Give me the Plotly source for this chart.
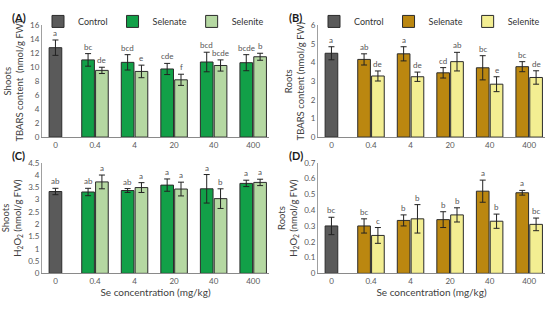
import plotly.graph_objects as go

categories = ["0", "0.4", "4", "20", "40", "400"]
treat_cats = categories[1:]

# (A) Shoots TBARS
a_control, a_control_err = [12.8], [1.1]
a_selenate = [11.05, 10.7, 9.75, 10.75, 10.65]
a_selenate_err = [0.9, 1.1, 0.8, 1.4, 1.15]
a_selenite = [9.55, 9.4, 8.2, 10.25, 11.5]
a_selenite_err = [0.45, 0.9, 0.8, 0.8, 0.5]
a_letters_control = ["a"]
a_letters_selenate = ["bc", "bcd", "cde", "bcd", "bcde"]
a_letters_selenite = ["de", "e", "f", "bcde", "b"]

# (B) Roots TBARS
b_control, b_control_err = [4.5], [0.35]
b_selenate = [4.17, 4.47, 3.45, 3.72, 3.78]
b_selenate_err = [0.3, 0.38, 0.28, 0.65, 0.27]
b_selenite = [3.28, 3.24, 4.05, 2.84, 3.2]
b_selenite_err = [0.27, 0.25, 0.5, 0.4, 0.36]
b_letters_control = ["a"]
b_letters_selenate = ["ab", "a", "cd", "bc", "bc"]
b_letters_selenite = ["de", "de", "ab", "e", "de"]

# (C) Shoots H2O2
c_control, c_control_err = [3.33], [0.13]
c_selenate = [3.31, 3.37, 3.59, 3.44, 3.66]
c_selenate_err = [0.15, 0.08, 0.25, 0.58, 0.13]
c_selenite = [3.72, 3.49, 3.43, 3.04, 3.7]
c_selenite_err = [0.28, 0.2, 0.28, 0.4, 0.13]
c_letters_control = ["ab"]
c_letters_selenate = ["ab", "ab", "a", "a", "a"]
c_letters_selenite = ["a", "a", "a", "b", "a"]

# (D) Roots H2O2
d_control, d_control_err = [0.30], [0.055]
d_selenate = [0.30, 0.335, 0.34, 0.52, 0.51]
d_selenate_err = [0.045, 0.035, 0.05, 0.07, 0.015]
d_selenite = [0.24, 0.345, 0.37, 0.33, 0.31]
d_selenite_err = [0.05, 0.09, 0.045, 0.045, 0.04]
d_letters_control = ["bc"]
d_letters_selenate = ["bc", "b", "b", "a", "a"]
d_letters_selenite = ["c", "b", "b", "b", "bc"]

W, H = 550, 310
FONT = "Lato"
BAR_W = 0.32
GAP = 0.03
OUTLINE = "#2b2b2b"
CONTROL_COLOR = "#5a5a5a"

fig = go.Figure()

panels = [
    dict(ax="", control=a_control, control_err=a_control_err, sel=a_selenate, sel_err=a_selenate_err,
         ite=a_selenite, ite_err=a_selenite_err, lc=a_letters_control, ls=a_letters_selenate,
         li=a_letters_selenite, c_sel="#12a048", c_ite="#b5d8a2", legend="legend", showleg=True),
    dict(ax="2", control=b_control, control_err=b_control_err, sel=b_selenate, sel_err=b_selenate_err,
         ite=b_selenite, ite_err=b_selenite_err, lc=b_letters_control, ls=b_letters_selenate,
         li=b_letters_selenite, c_sel="#bb8710", c_ite="#f3ee92", legend="legend2", showleg=True),
    dict(ax="3", control=c_control, control_err=c_control_err, sel=c_selenate, sel_err=c_selenate_err,
         ite=c_selenite, ite_err=c_selenite_err, lc=c_letters_control, ls=c_letters_selenate,
         li=c_letters_selenite, c_sel="#12a048", c_ite="#b5d8a2", legend="legend", showleg=False),
    dict(ax="4", control=d_control, control_err=d_control_err, sel=d_selenate, sel_err=d_selenate_err,
         ite=d_selenite, ite_err=d_selenite_err, lc=d_letters_control, ls=d_letters_selenate,
         li=d_letters_selenite, c_sel="#bb8710", c_ite="#f3ee92", legend="legend2", showleg=False),
]

def err(arr):
    return dict(type="data", array=arr, color="#222222", thickness=1, width=3)

annotations = []
for p in panels:
    xa, ya = "x" + p["ax"], "y" + p["ax"]
    fig.add_trace(go.Bar(x=categories[:1], y=p["control"], name="Control", width=BAR_W, offset=-BAR_W / 2,
                         marker=dict(color=CONTROL_COLOR, line=dict(color=OUTLINE, width=1)),
                         error_y=err(p["control_err"]), xaxis=xa, yaxis=ya,
                         legend=p["legend"], showlegend=p["showleg"]))
    fig.add_trace(go.Bar(x=treat_cats, y=p["sel"], name="Selenate", width=BAR_W, offset=-BAR_W - GAP / 2,
                         marker=dict(color=p["c_sel"], line=dict(color=OUTLINE, width=1)),
                         error_y=err(p["sel_err"]), xaxis=xa, yaxis=ya,
                         legend=p["legend"], showlegend=p["showleg"]))
    fig.add_trace(go.Bar(x=treat_cats, y=p["ite"], name="Selenite", width=BAR_W, offset=GAP / 2,
                         marker=dict(color=p["c_ite"], line=dict(color=OUTLINE, width=1)),
                         error_y=err(p["ite_err"]), xaxis=xa, yaxis=ya,
                         legend=p["legend"], showlegend=p["showleg"]))
    groups = [([0], p["control"], p["control_err"], p["lc"], 0.0)]
    idx = list(range(1, len(categories)))
    groups.append((idx, p["sel"], p["sel_err"], p["ls"], -(BAR_W + GAP) / 2))
    groups.append((idx, p["ite"], p["ite_err"], p["li"], (BAR_W + GAP) / 2))
    for ids, vals, errs, letters, off in groups:
        for i, v, e, t in zip(ids, vals, errs, letters):
            annotations.append(dict(x=i + off, y=v + e, xref=xa, yref=ya, text=t, showarrow=False,
                                    yanchor="bottom", yshift=0, font=dict(family=FONT, size=8, color="#555555")))

# panel labels
for lab, x, y in [("(A)", 10, 13), ("(B)", 287, 13), ("(C)", 10, 156), ("(D)", 287, 156)]:
    annotations.append(dict(x=x / W, y=1 - y / H, xref="paper", yref="paper", text="<b>%s</b>" % lab,
                            showarrow=False, xanchor="left", yanchor="middle",
                            font=dict(family=FONT, size=11, color="#1a1a1a")))

xl = [42, 269]
xr = [318, 545]
yt = [21, 136.5]
yb = [163, 277.3]

def xd(a):
    return [a[0] / W, a[1] / W]

def yd(a):
    return [1 - a[1] / H, 1 - a[0] / H]

xcommon = dict(type="category", categoryorder="array", categoryarray=categories, range=[-0.34, 5.4],
               showline=True, linecolor="#8a8a8a", linewidth=1, ticks="", showgrid=False, zeroline=False,
               tickfont=dict(family=FONT, size=8, color="#595959"))
ycommon = dict(showline=True, linecolor="#a0a0a0", linewidth=1, ticks="", showgrid=False, zeroline=False,
               tickfont=dict(family=FONT, size=8, color="#595959"))
tfont = dict(family=FONT, size=9.5, color="#404040")

fig.update_layout(
    width=W, height=H, margin=dict(l=0, r=0, t=0, b=0),
    paper_bgcolor="white", plot_bgcolor="white", barmode="overlay",
    font=dict(family=FONT),
    xaxis=dict(domain=xd(xl), anchor="y", **xcommon),
    yaxis=dict(domain=yd(yt), anchor="x", range=[0, 16], dtick=2,
               title=dict(text="Shoots<br>TBARS content  (nmol/g FW)", font=tfont, standoff=4), **ycommon),
    xaxis2=dict(domain=xd(xr), anchor="y2", **xcommon),
    yaxis2=dict(domain=yd(yt), anchor="x2", range=[0, 6], dtick=1,
                title=dict(text="Roots<br>TBARS content (nmol/g FW)", font=tfont, standoff=4), **ycommon),
    xaxis3=dict(domain=xd(xl), anchor="y3",
                title=dict(text="Se concentration (mg/kg)", font=dict(family=FONT, size=10, color="#404040"), standoff=4),
                **xcommon),
    yaxis3=dict(domain=yd(yb), anchor="x3", range=[0, 4.5], dtick=0.5,
                title=dict(text="Shoots<br>H<sub>2</sub>O<sub>2</sub> (nmol/g FW)", font=tfont, standoff=4), **ycommon),
    xaxis4=dict(domain=xd(xr), anchor="y4",
                title=dict(text="Se concentration (mg/kg)", font=dict(family=FONT, size=10, color="#404040"), standoff=4),
                **xcommon),
    yaxis4=dict(domain=yd(yb), anchor="x4", range=[0, 0.7], dtick=0.1,
                title=dict(text="Roots<br>H<sub>2</sub>O<sub>2</sub> (nmol/g FW)", font=tfont, standoff=4), **ycommon),
    legend=dict(orientation="h", x=xl[1] / W, xanchor="right", y=1 - 2 / H, yanchor="top",
                font=dict(family=FONT, size=9, color="#333333"), bgcolor="rgba(0,0,0,0)",
                itemwidth=30, tracegroupgap=0),
    legend2=dict(orientation="h", x=xr[1] / W, xanchor="right", y=1 - 2 / H, yanchor="top",
                 font=dict(family=FONT, size=9, color="#333333"), bgcolor="rgba(0,0,0,0)",
                 itemwidth=30, tracegroupgap=0),
    annotations=annotations,
)

fig.write_html("out.html", config={"displayModeBar": False},
               post_script="document.body.style.margin='0px';document.body.style.overflow='hidden';")
